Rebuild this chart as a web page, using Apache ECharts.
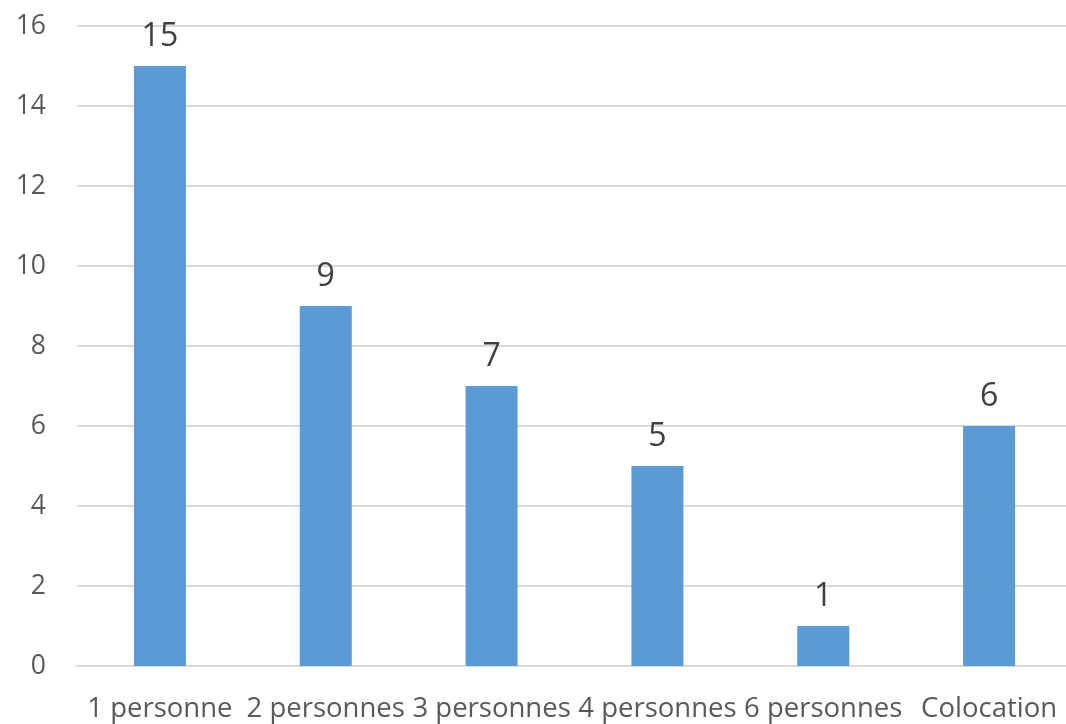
<!DOCTYPE html>
<html>
<head>
<meta charset="utf-8">
<script src="https://cdn.jsdelivr.net/npm/echarts@6/dist/echarts.min.js"></script>
<style>html,body{margin:0;padding:0;background:#fff;overflow:hidden;width:1066px;height:724px;}#c{width:1072px;height:724px;}</style>
</head>
<body>
<div id="c"></div>
<script>
const categories = ['1 personne', '2 personnes', '3 personnes', '4 personnes', '6 personnes', 'Colocation'];
const values = [15, 9, 7, 5, 1, 6];
const yTicks = { min: 0, max: 16, interval: 2 };

const chart = echarts.init(document.getElementById('c'), null, { renderer: 'canvas' });
chart.setOption({
  animation: false,
  grid: { left: 77, top: 26, right: 0, bottom: 58, containLabel: false },
  xAxis: {
    type: 'category',
    data: categories,
    axisLine: { show: true, lineStyle: { color: '#D9D9D9', width: 2 } },
    axisTick: { show: false },
    axisLabel: { color: '#595959', fontFamily: 'Open Sans', fontSize: 27.5, margin: 29, interval: 0 }
  },
  yAxis: {
    type: 'value',
    min: yTicks.min, max: yTicks.max, interval: yTicks.interval,
    axisLine: { show: false },
    axisTick: { show: false },
    splitLine: { lineStyle: { color: '#D9D9D9', width: 2 } },
    axisLabel: { color: '#595959', fontFamily: 'Open Sans', fontSize: 26.5, margin: 31 }
  },
  series: [{
    type: 'bar',
    data: values,
    barWidth: 52,
    itemStyle: { color: '#5B9BD5' },
    label: { show: true, position: 'top', distance: 13, color: '#404040', fontFamily: 'Open Sans', fontSize: 32 }
  }]
});
</script>
</body>
</html>
